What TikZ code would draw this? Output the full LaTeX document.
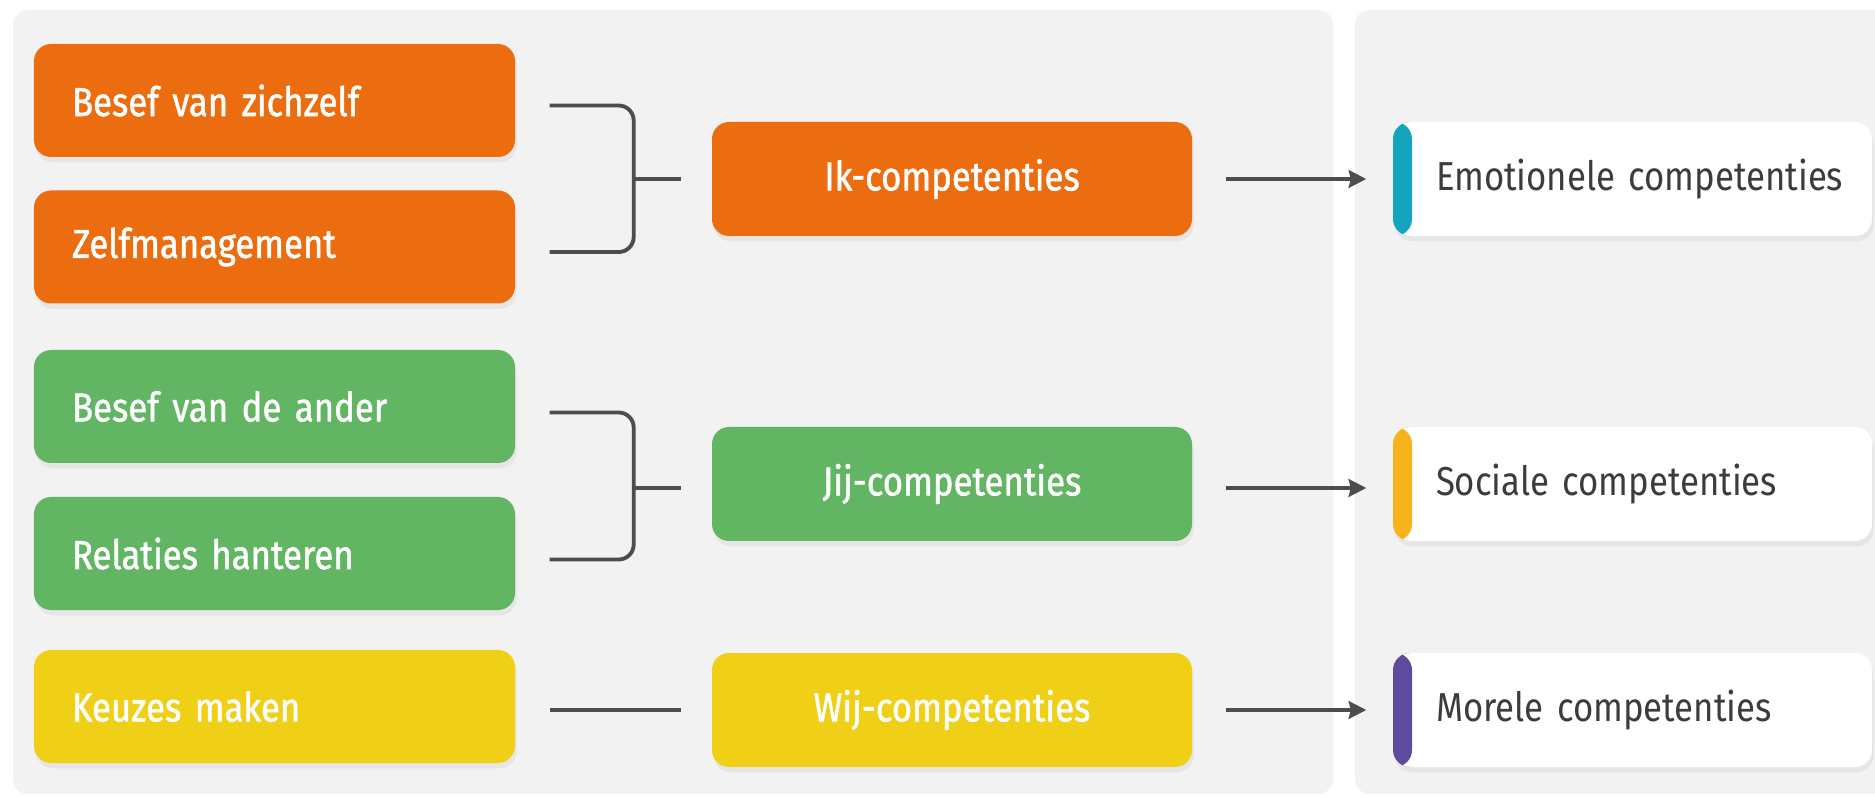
\documentclass[tikz,border=0pt]{standalone}
\usepackage{fontspec}
\setmainfont{Fira Sans}[FakeStretch=0.86]
\newfontfamily\kcmedium{Fira Sans}[FakeStretch=0.86, FakeBold=1.2]
\usepackage{xcolor}
\usepackage{tikz}
\usetikzlibrary{arrows.meta, positioning, calc, shadows}
\definecolor{kcorange}{HTML}{EB6D10}
\definecolor{kcgreen}{HTML}{62B562}
\definecolor{kcyellow}{HTML}{F0D017}
\definecolor{kcpanel}{HTML}{F2F2F2}
\definecolor{kcline}{HTML}{4D4D4D}
\definecolor{kcteal}{HTML}{14A4BD}
\definecolor{kcamber}{HTML}{F6B31B}
\definecolor{kcpurple}{HTML}{5D4C9D}
\definecolor{kctext}{HTML}{3C3C3C}

\begin{document}
\begin{tikzpicture}[
  panel/.style={fill=kcpanel, rounded corners=0.15cm},
  skill/.style={fill=#1, rounded corners=0.17cm, text width=4.05cm, inner xsep=0.38cm,
                minimum height=1.13cm, align=left, text=white, font=\kcmedium\fontsize{11.5}{13}\selectfont,
                drop shadow={shadow xshift=0.5pt, shadow yshift=-1.5pt, opacity=0.1}},
  comp/.style={fill=#1, rounded corners=0.17cm, minimum width=4.8cm, minimum height=1.14cm,
               align=center, text=white, font=\kcmedium\fontsize{11.5}{13}\selectfont,
               drop shadow={shadow xshift=0.5pt, shadow yshift=-1.5pt, opacity=0.1}},
  goal/.style={fill=white, rounded corners=0.17cm, text width=3.93cm, inner xsep=0.43cm,
               minimum height=1.14cm, align=left, text=kctext, font=\fontsize{11.5}{13}\selectfont,
               drop shadow={shadow xshift=0.5pt, shadow yshift=-1.5pt, opacity=0.1},
               path picture={\fill[#1] (path picture bounding box.south west)
                 rectangle ([xshift=0.19cm]path picture bounding box.north west);}},
  brk/.style={draw=kcline, line width=1.1pt, rounded corners=0.15cm},
  arr/.style={-{Stealth[length=5pt, width=5pt, inset=0.6pt]}, line width=1.1pt, color=kcline},
]
  \useasboundingbox (0,0) rectangle (18.75,-7.97);
  \fill[panel] (0.13,-0.10) rectangle (13.33,-7.94);
  \fill[panel] (13.55,-0.10) rectangle (19.20,-7.94);

  % left column
  \node[skill=kcorange] (zelf) at (2.745,-1.005) {Besef van zichzelf};
  \node[skill=kcorange] (mgmt) at (2.745,-2.47) {Zelfmanagement};
  \node[skill=kcgreen] (ander) at (2.745,-4.065) {Besef van de ander};
  \node[skill=kcgreen] (rel) at (2.745,-5.535) {Relaties hanteren};
  \node[skill=kcyellow] (keuze) at (2.745,-7.065) {Keuzes maken};

  % middle column
  \node[comp=kcorange] (ik) at (9.52,-1.79) {Ik-competenties};
  \node[comp=kcgreen] (jij) at (9.52,-4.84) {Jij-competenties};
  \node[comp=kcyellow] (wij) at (9.52,-7.10) {Wij-competenties};

  % right column
  \node[goal=kcteal] (emo) at (16.325,-1.79) {\mbox{Emotionele competenties}};
  \node[goal=kcamber] (soc) at (16.325,-4.84) {\mbox{Sociale competenties}};
  \node[goal=kcpurple] (mor) at (16.325,-7.10) {\mbox{Morele competenties}};

  \draw[brk] ([xshift=0.34cm, yshift=-0.05cm]zelf.east) -- ++(0.84,0) |- ([xshift=0.34cm, yshift=-0.05cm]mgmt.east);
  \draw[brk] ([xshift=-0.79cm]ik.west) -- ([xshift=-0.3cm]ik.west);
  \draw[brk] ([xshift=0.34cm, yshift=-0.06cm]ander.east) -- ++(0.84,0) |- ([xshift=0.34cm, yshift=-0.06cm]rel.east);
  \draw[brk] ([xshift=-0.79cm, yshift=-0.04cm]jij.west) -- ([xshift=-0.3cm, yshift=-0.04cm]jij.west);
  \draw[brk] ([xshift=0.34cm]keuze.east |- wij.west) -- ([xshift=-0.3cm]wij.west);

  \draw[arr] ([xshift=0.33cm]ik.east) -- ([xshift=-0.26cm]emo.west);
  \draw[arr] ([xshift=0.33cm, yshift=-0.04cm]jij.east) -- ([xshift=-0.26cm, yshift=-0.04cm]soc.west);
  \draw[arr] ([xshift=0.33cm]wij.east) -- ([xshift=-0.26cm]mor.west);
\end{tikzpicture}
\end{document}
